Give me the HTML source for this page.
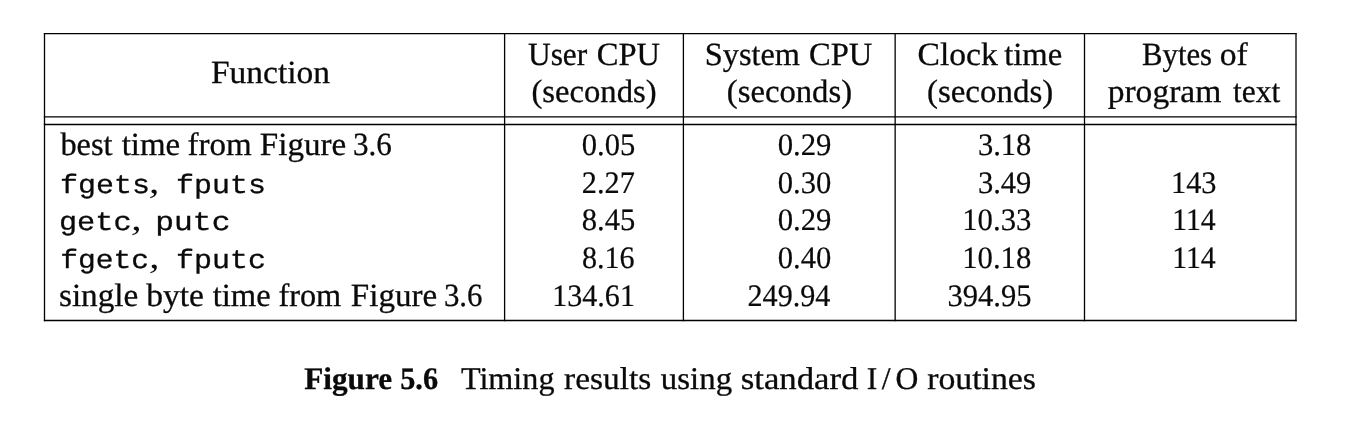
<!DOCTYPE html>
<html lang="en">
<head>
<meta charset="utf-8">
<title>Figure 5.6 Timing results using standard I/O routines</title>
<style>
html,body{margin:0;padding:0;background:#fff;}
body{width:1347px;height:425px;overflow:hidden;}
svg{display:block;will-change:transform;}
text{fill:#0a0a0a;stroke:#0a0a0a;stroke-width:0.3px;white-space:pre;}
.s{font-family:"Liberation Serif", serif;font-size:32.4px;}
.n{font-family:"Liberation Serif", serif;font-size:31.2px;stroke-width:0.2px;}
.k{font-family:"Liberation Serif", serif;font-size:34px;font-style:italic;stroke-width:0;}
.c{font-family:"Liberation Serif", serif;font-size:31.6px;}
.b{font-family:"Liberation Serif", serif;font-size:31.4px;font-weight:bold;}
.m{font-family:"Liberation Mono", monospace;font-size:26.6px;}
line{stroke:#000;stroke-width:1.3;}
</style>
</head>
<body>
<svg xmlns="http://www.w3.org/2000/svg" width="1347" height="425" viewBox="0 0 1347 425" text-rendering="geometricPrecision">
<g>
<line x1="44.5" y1="33.050000000000004" x2="44.5" y2="321.15"/>
<line x1="504.6" y1="33.050000000000004" x2="504.6" y2="321.15"/>
<line x1="683.4" y1="33.050000000000004" x2="683.4" y2="321.15"/>
<line x1="895.15" y1="33.050000000000004" x2="895.15" y2="321.15"/>
<line x1="1084.5" y1="33.050000000000004" x2="1084.5" y2="321.15"/>
<line x1="1296.0" y1="33.050000000000004" x2="1296.0" y2="321.15"/>
<line x1="43.85" y1="33.7" x2="1296.65" y2="33.7"/>
<line x1="43.85" y1="116.85" x2="1296.65" y2="116.85"/>
<line x1="43.85" y1="124.5" x2="1296.65" y2="124.5"/>
<line x1="43.85" y1="320.5" x2="1296.65" y2="320.5"/>
</g>
<g>
<text class="s" x="211.01" y="82.90" textLength="118.99" lengthAdjust="spacingAndGlyphs">Function</text>
<text><tspan class="s" x="527.94" y="64.50" textLength="59.34" lengthAdjust="spacingAndGlyphs">User</tspan> <tspan class="s" x="596.79" y="64.50" textLength="63.24" lengthAdjust="spacingAndGlyphs">CPU</tspan></text>
<text class="s" x="531.48" y="101.70" textLength="125.08" lengthAdjust="spacingAndGlyphs">(seconds)</text>
<text><tspan class="s" x="704.81" y="64.50" textLength="95.19" lengthAdjust="spacingAndGlyphs">System</tspan> <tspan class="s" x="808.98" y="64.50" textLength="63.30" lengthAdjust="spacingAndGlyphs">CPU</tspan></text>
<text class="s" x="726.85" y="101.70" textLength="125.18" lengthAdjust="spacingAndGlyphs">(seconds)</text>
<text><tspan class="s" x="917.55" y="64.50" textLength="80.24" lengthAdjust="spacingAndGlyphs">Clock</tspan> <tspan class="s" x="1004.24" y="64.50" textLength="58.02" lengthAdjust="spacingAndGlyphs">time</tspan></text>
<text class="s" x="926.98" y="101.70" textLength="126.22" lengthAdjust="spacingAndGlyphs">(seconds)</text>
<text><tspan class="s" x="1142.07" y="64.50" textLength="70.02" lengthAdjust="spacingAndGlyphs">Bytes</tspan> <tspan class="s" x="1219.76" y="64.50" textLength="27.97" lengthAdjust="spacingAndGlyphs">of</tspan></text>
<text><tspan class="s" x="1107.71" y="101.70" textLength="113.54" lengthAdjust="spacingAndGlyphs">program</tspan> <tspan class="s" x="1233.00" y="101.70" textLength="47.32" lengthAdjust="spacingAndGlyphs">text</tspan></text>
<text><tspan class="s" x="60.40" y="155.00" textLength="52.13" lengthAdjust="spacingAndGlyphs">best</tspan> <tspan class="s" x="121.71" y="155.00" textLength="58.55" lengthAdjust="spacingAndGlyphs">time</tspan> <tspan class="s" x="187.53" y="155.00" textLength="64.12" lengthAdjust="spacingAndGlyphs">from</tspan> <tspan class="s" x="259.87" y="155.00" textLength="86.38" lengthAdjust="spacingAndGlyphs">Figure</tspan> <tspan class="s" x="352.92" y="155.00" textLength="38.82" lengthAdjust="spacingAndGlyphs">3.6</tspan></text>
<text><tspan class="m" x="60.03" y="192.70" textLength="90.02" lengthAdjust="spacingAndGlyphs">fgets</tspan><tspan class="k" x="148.79" y="192.70" textLength="10.71" lengthAdjust="spacingAndGlyphs">,</tspan> <tspan class="m" x="176.14" y="192.70" textLength="89.79" lengthAdjust="spacingAndGlyphs">fputs</tspan></text>
<text><tspan class="m" x="58.91" y="230.40" textLength="72.67" lengthAdjust="spacingAndGlyphs">getc</tspan><tspan class="k" x="131.14" y="230.40" textLength="10.71" lengthAdjust="spacingAndGlyphs">,</tspan> <tspan class="m" x="155.33" y="230.40" textLength="75.08" lengthAdjust="spacingAndGlyphs">putc</tspan></text>
<text><tspan class="m" x="60.22" y="268.10" textLength="88.86" lengthAdjust="spacingAndGlyphs">fgetc</tspan><tspan class="k" x="149.06" y="268.10" textLength="10.55" lengthAdjust="spacingAndGlyphs">,</tspan> <tspan class="m" x="176.04" y="268.10" textLength="89.98" lengthAdjust="spacingAndGlyphs">fputc</tspan></text>
<text><tspan class="s" x="58.97" y="305.80" textLength="79.32" lengthAdjust="spacingAndGlyphs">single</tspan> <tspan class="s" x="146.23" y="305.80" textLength="57.79" lengthAdjust="spacingAndGlyphs">byte</tspan> <tspan class="s" x="212.71" y="305.80" textLength="58.03" lengthAdjust="spacingAndGlyphs">time</tspan> <tspan class="s" x="278.47" y="305.80" textLength="62.78" lengthAdjust="spacingAndGlyphs">from</tspan> <tspan class="s" x="350.84" y="305.80" textLength="86.28" lengthAdjust="spacingAndGlyphs">Figure</tspan> <tspan class="s" x="443.95" y="305.80" textLength="38.58" lengthAdjust="spacingAndGlyphs">3.6</tspan></text>
<text class="n" x="581.80" y="155.00" textLength="53.50" lengthAdjust="spacingAndGlyphs">0.05</text>
<text class="n" x="581.79" y="192.70" textLength="53.00" lengthAdjust="spacingAndGlyphs">2.27</text>
<text class="n" x="581.81" y="230.40" textLength="53.51" lengthAdjust="spacingAndGlyphs">8.45</text>
<text class="n" x="581.91" y="268.10" textLength="52.68" lengthAdjust="spacingAndGlyphs">8.16</text>
<text class="n" x="552.27" y="305.80" textLength="82.65" lengthAdjust="spacingAndGlyphs">134.61</text>
<text class="n" x="777.70" y="155.00" textLength="53.81" lengthAdjust="spacingAndGlyphs">0.29</text>
<text class="n" x="777.70" y="192.70" textLength="53.57" lengthAdjust="spacingAndGlyphs">0.30</text>
<text class="n" x="777.70" y="230.40" textLength="53.81" lengthAdjust="spacingAndGlyphs">0.29</text>
<text class="n" x="777.70" y="268.10" textLength="53.57" lengthAdjust="spacingAndGlyphs">0.40</text>
<text class="n" x="747.52" y="305.80" textLength="82.88" lengthAdjust="spacingAndGlyphs">249.94</text>
<text class="n" x="977.92" y="155.00" textLength="53.44" lengthAdjust="spacingAndGlyphs">3.18</text>
<text class="n" x="977.92" y="192.70" textLength="53.49" lengthAdjust="spacingAndGlyphs">3.49</text>
<text class="n" x="962.22" y="230.40" textLength="69.14" lengthAdjust="spacingAndGlyphs">10.33</text>
<text class="n" x="962.18" y="268.10" textLength="69.09" lengthAdjust="spacingAndGlyphs">10.18</text>
<text class="n" x="947.38" y="305.80" textLength="84.12" lengthAdjust="spacingAndGlyphs">394.95</text>
<text class="n" x="1171.03" y="192.70" textLength="45.50" lengthAdjust="spacingAndGlyphs">143</text>
<text class="n" x="1172.18" y="230.40" textLength="43.54" lengthAdjust="spacingAndGlyphs">114</text>
<text class="n" x="1172.18" y="268.10" textLength="43.54" lengthAdjust="spacingAndGlyphs">114</text>
<text><tspan class="b" x="304.24" y="388.80" textLength="87.80" lengthAdjust="spacingAndGlyphs">Figure</tspan> <tspan class="b" x="400.22" y="388.80" textLength="37.82" lengthAdjust="spacingAndGlyphs">5.6</tspan></text>
<text><tspan class="c" x="460.90" y="388.80" textLength="93.58" lengthAdjust="spacingAndGlyphs">Timing</tspan> <tspan class="c" x="564.02" y="388.80" textLength="87.20" lengthAdjust="spacingAndGlyphs">results</tspan> <tspan class="c" x="660.88" y="388.80" textLength="71.23" lengthAdjust="spacingAndGlyphs">using</tspan> <tspan class="c" x="740.70" y="388.80" textLength="117.78" lengthAdjust="spacingAndGlyphs">standard</tspan> <tspan class="c" x="866.7 881.7 895.45" y="388.80">I/O</tspan> <tspan class="c" x="927.15" y="388.80" textLength="108.87" lengthAdjust="spacingAndGlyphs">routines</tspan></text>
</g>
</svg>
</body>
</html>
